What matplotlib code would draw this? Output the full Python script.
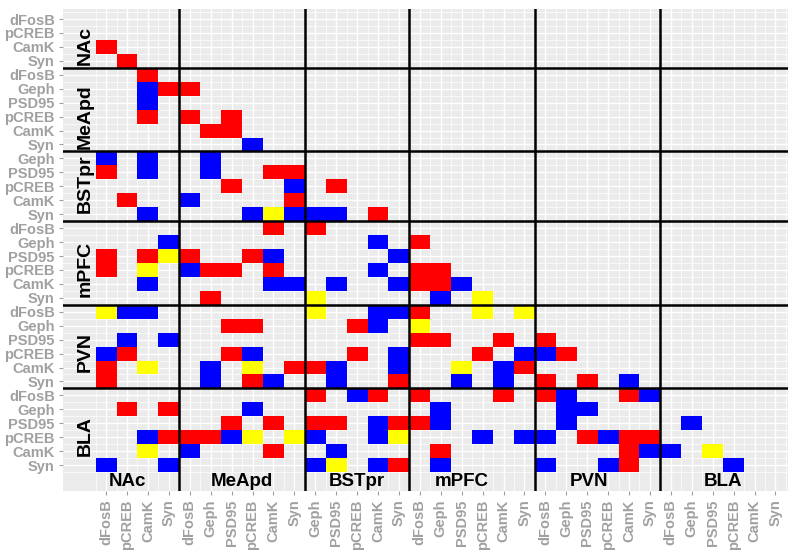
import numpy as np
import matplotlib
matplotlib.use("Agg")
import matplotlib.pyplot as plt
from matplotlib.colors import ListedColormap

plt.rcParams["font.family"] = ["Liberation Sans", "DejaVu Sans"]

# ── Data ──────────────────────────────────────────────────────────────────────
region_names = ["NAc", "MeApd", "BSTpr", "mPFC", "PVN", "BLA"]
nac_markers   = ["dFosB", "pCREB", "CamK", "Syn"]
meapd_markers = ["dFosB", "Geph", "PSD95", "pCREB", "CamK", "Syn"]
bstpr_markers = ["Geph", "PSD95", "pCREB", "CamK", "Syn"]
mpfc_markers  = ["dFosB", "Geph", "PSD95", "pCREB", "CamK", "Syn"]
pvn_markers   = ["dFosB", "Geph", "PSD95", "pCREB", "CamK", "Syn"]
bla_markers   = ["dFosB", "Geph", "PSD95", "pCREB", "CamK", "Syn"]
region_markers = [nac_markers, meapd_markers, bstpr_markers,
                  mpfc_markers, pvn_markers, bla_markers]

# (row, col), 1-based, rows top->bottom, cols left->right
red_cells = [
    (3, 1), (4, 2), (5, 3), (6, 4), (6, 5), (8, 3), (8, 5), (8, 7), (9, 6), (9, 7),
    (12, 1), (12, 9), (12, 10), (13, 7), (13, 12), (14, 2), (14, 10), (15, 14),
    (16, 9), (16, 11), (17, 16),
    (18, 1), (18, 3), (18, 5), (18, 8),
    (19, 1), (19, 6), (19, 7), (19, 9), (19, 16), (19, 17),
    (20, 16), (20, 17), (21, 6),
    (22, 16), (23, 7), (23, 8), (23, 13),
    (24, 16), (24, 17), (24, 20), (24, 22),
    (25, 2), (25, 7), (25, 13), (25, 19), (25, 23),
    (26, 1), (26, 10), (26, 11), (26, 21),
    (27, 1), (27, 8), (27, 15), (27, 22), (27, 24),
    (28, 11), (28, 14), (28, 16), (28, 20), (28, 22), (28, 26),
    (29, 2), (29, 4),
    (30, 7), (30, 9), (30, 11), (30, 12), (30, 15), (30, 16),
    (31, 4), (31, 5), (31, 6), (31, 24), (31, 26), (31, 27),
    (32, 9), (32, 17), (32, 26),
    (33, 15), (33, 26),
]
blue_cells = [
    (6, 3), (7, 3), (10, 8),
    (11, 1), (11, 3), (11, 6), (12, 3), (12, 6), (13, 10), (14, 5),
    (15, 3), (15, 8), (15, 10), (15, 11), (15, 12),
    (17, 4), (17, 14), (18, 9), (18, 15), (19, 5), (19, 14),
    (20, 3), (20, 9), (20, 10), (20, 12), (20, 15), (20, 18), (21, 17),
    (22, 2), (22, 3), (22, 14), (22, 15), (23, 14), (24, 2), (24, 4),
    (25, 1), (25, 8), (25, 15), (25, 21), (25, 22),
    (26, 6), (26, 12), (26, 15), (26, 20),
    (27, 6), (27, 9), (27, 12), (27, 18), (27, 20), (27, 26),
    (28, 13), (28, 23), (28, 27),
    (29, 8), (29, 17), (29, 23), (29, 24),
    (30, 14), (30, 17), (30, 23), (30, 29),
    (31, 3), (31, 7), (31, 11), (31, 14), (31, 19), (31, 21), (31, 22), (31, 25),
    (32, 5), (32, 12), (32, 27), (32, 28),
    (33, 1), (33, 4), (33, 11), (33, 14), (33, 17), (33, 22), (33, 25), (33, 31),
]
yellow_cells = [
    (15, 9), (18, 4), (19, 3), (21, 11), (21, 19),
    (22, 1), (22, 11), (22, 19), (22, 21), (23, 16),
    (26, 3), (26, 8), (26, 18),
    (31, 8), (31, 10), (31, 15), (32, 3), (32, 30), (33, 12),
]

row_label_pos = [2.9, 8.0, 12.8, 18.9, 24.9, 30.9]
col_label_pos = [2.0, 7.5, 13.0, 18.0, 24.1, 30.5]

# ── Build matrix ──────────────────────────────────────────────────────────────
labels = [m for group in region_markers for m in group]
n = len(labels)
grid = np.zeros((n, n))
for code, cells in enumerate([red_cells, blue_cells, yellow_cells], start=1):
    for r, c in cells:
        grid[r - 1, c - 1] = code
grid = np.ma.masked_equal(grid, 0)
cmap = ListedColormap(["#FF0000", "#0000FF", "#FFFF00"])

bounds = np.cumsum([len(g) for g in region_markers])[:-1] + 0.5

# ── Plot ──────────────────────────────────────────────────────────────────────
fig = plt.figure(figsize=(8, 5.54), dpi=100)
ax = fig.add_axes([63 / 800, 1 - 491 / 554, 725 / 800, 481.7 / 554])
ax.set_facecolor("#EBEBEB")

pos = np.arange(1, n + 1)
ax.set_xticks(pos)
ax.set_yticks(pos)
ax.set_xticks(np.arange(0.5, n + 1), minor=True)
ax.set_yticks(np.arange(0.5, n + 1), minor=True)
ax.grid(True, which="major", color="white", lw=1.0)
ax.grid(True, which="minor", color="white", lw=0.5)
ax.set_axisbelow(True)

edges = np.arange(0.5, n + 1)
ax.pcolormesh(edges, edges, grid, cmap=cmap, vmin=0.5, vmax=3.5, zorder=2)

for b in bounds:
    ax.axvline(b, color="black", lw=1.8, zorder=3)
    ax.axhline(b, color="black", lw=1.8, zorder=3)

for name, y in zip(region_names, row_label_pos):
    ax.text(0, y, name, rotation=90, ha="center", va="center",
            fontsize=14, fontweight="bold", color="black", zorder=4)
for name, x in zip(region_names, col_label_pos):
    ax.text(x, 34.5, name, ha="center", va="baseline",
            fontsize=13.5, fontweight="bold", color="black", zorder=4)

ax.set_xlim(-1.06, 33.6)
ax.set_ylim(34.86, 0.3)

ax.set_xticklabels(labels, rotation=90, va="top", ha="center")
ax.set_yticklabels(labels)
for lab in ax.get_xticklabels() + ax.get_yticklabels():
    lab.set_color("#A0A0A0")
    lab.set_fontweight("bold")
    lab.set_fontsize(10.5)
ax.tick_params(which="major", length=3, color="#A0A0A0", width=0.8, pad=3)
ax.tick_params(which="minor", length=0)
for s in ax.spines.values():
    s.set_visible(False)

plt.savefig("out.png", dpi=100)
